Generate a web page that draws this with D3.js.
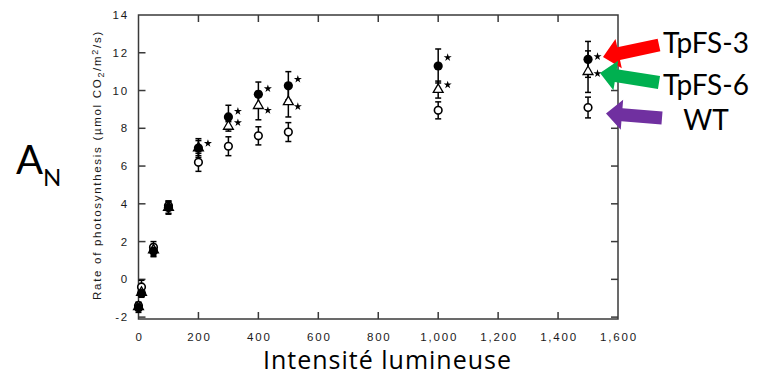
<!DOCTYPE html>
<html>
<head>
<meta charset="utf-8">
<script src="https://cdn.jsdelivr.net/npm/d3@7"></script>
<style>
  body { margin: 0; background: #fff; }
  svg { display: block; }
  .tick-label { font-family: "Liberation Sans", Arial, sans-serif; font-size: 11.5px; letter-spacing: 1.8px; fill: #1a1a1a; }
  .big { font-family: Lato, "Open Sans", sans-serif; fill: #000; }
</style>
</head>
<body>
<script>
// light intensity (x) and the three lines
let light = [0, 10, 50, 100, 200, 300, 400, 500, 1000, 1500]
let fs3 = [-1.5, -0.75, 1.5, 3.8, 6.95, 8.6, 9.8, 10.25, 11.3, 11.65]
let fs3Err = [0.25, 0.2, 0.3, 0.35, 0.5, 0.62, 0.65, 0.75, 0.9, 0.95]
let fs6 = [-1.45, -0.7, 1.55, 3.8, 6.95, 8.1, 9.2, 9.4, 10.05, 11.0]
let fs6Err = [0.2, 0.2, 0.3, 0.3, 0.4, 0.25, 0.75, 0.8, 0.45, 1.1]
let wt = [-1.4, -0.4, 1.7, 3.9, 6.2, 7.05, 7.6, 7.8, 8.95, 9.1]
let wtErr = [0.2, 0.35, 0.3, 0.25, 0.48, 0.5, 0.48, 0.5, 0.45, 0.55]

// significance marks
let sig3X = [200, 300, 400, 500, 1000, 1500]
let sig3Y = [7.2, 8.9, 10.1, 10.6, 11.75, 11.8]
let sig6X = [300, 400, 500, 1000, 1500]
let sig6Y = [8.3, 8.95, 9.15, 10.3, 10.9]

let xTicks = [0, 200, 400, 600, 800, 1000, 1200, 1400, 1600]
let yTicks = [-2, 0, 2, 4, 6, 8, 10, 12, 14]

let W = 760, H = 375
let pL = 138.5, pR = 618, pT = 15, pB = 319

let svg = d3.select('body').append('svg').attr('width', W).attr('height', H)

let x = d3.scaleLinear().domain([0, 1600]).range([pL, pR])
let y = d3.scaleLinear().domain([-2.1, 14]).range([pB, pT])

// frame and ticks (ticks point inward)
let axisCol = '#3a3a3a'
svg.append('rect').attr('x', pL).attr('y', pT).attr('width', pR - pL).attr('height', pB - pT)
  .attr('fill', 'none').attr('stroke', axisCol).attr('stroke-width', 1.5)

let tl = 7
let g = svg.append('g').attr('stroke', axisCol).attr('stroke-width', 1.5)
xTicks.slice(1, -1).forEach(function (t) {
  g.append('line').attr('x1', x(t)).attr('x2', x(t)).attr('y1', pB).attr('y2', pB - tl)
  g.append('line').attr('x1', x(t)).attr('x2', x(t)).attr('y1', pT).attr('y2', pT + tl)
})
yTicks.forEach(function (t) {
  if (y(t) < pT + 2) return
  g.append('line').attr('y1', y(t)).attr('y2', y(t)).attr('x1', pL).attr('x2', pL + tl)
  g.append('line').attr('y1', y(t)).attr('y2', y(t)).attr('x1', pR).attr('x2', pR - tl)
})

let fmt = d3.format(',')
svg.selectAll('.xl').data(xTicks).enter().append('text').attr('class', 'tick-label')
  .attr('x', function (d) { return x(d) + 1 }).attr('y', 341).attr('text-anchor', 'middle')
  .text(function (d) { return fmt(d) })
svg.selectAll('.yl').data(yTicks).enter().append('text').attr('class', 'tick-label')
  .attr('x', 129).attr('y', function (d) { return y(d) + 4 }).attr('text-anchor', 'end')
  .text(function (d) { return d })

// y axis title
let yt = svg.append('text').attr('class', 'tick-label')
  .attr('transform', 'translate(101,165) rotate(-90)').attr('text-anchor', 'middle')
  .style('font-size', '11.5px').style('letter-spacing', '1.7px')
yt.append('tspan').text('Rate of photosynthesis (\u00b5mol CO')
yt.append('tspan').attr('baseline-shift', '-30%').style('font-size', '9px').text('2')
yt.append('tspan').text('/m')
yt.append('tspan').attr('baseline-shift', '30%').style('font-size', '9px').text('2')
yt.append('tspan').text('/s)')

// error bars
function errBars (vals, errs) {
  let eg = svg.append('g').attr('stroke', '#000').attr('stroke-width', 1.5)
  light.forEach(function (l, i) {
    let cx = x(l), y1 = y(vals[i] + errs[i]), y2 = y(vals[i] - errs[i])
    eg.append('line').attr('x1', cx).attr('x2', cx).attr('y1', y1).attr('y2', y2)
    eg.append('line').attr('x1', cx - 3).attr('x2', cx + 3).attr('y1', y1).attr('y2', y1)
    eg.append('line').attr('x1', cx - 3).attr('x2', cx + 3).attr('y1', y2).attr('y2', y2)
  })
}
errBars(wt, wtErr)
errBars(fs6, fs6Err)
errBars(fs3, fs3Err)

// markers
svg.append('g').selectAll('circle').data(light).enter().append('circle')
  .attr('cx', function (d) { return x(d) }).attr('cy', function (d, i) { return y(wt[i]) })
  .attr('r', 3.8).attr('fill', '#fff').attr('stroke', '#000').attr('stroke-width', 1.6)

let tri = d3.symbol().type(d3.symbolTriangle).size(42)
svg.append('g').selectAll('path').data(light).enter().append('path')
  .attr('d', tri).attr('transform', function (d, i) { return 'translate(' + x(d) + ',' + y(fs6[i]) + ')' })
  .attr('fill', '#fff').attr('stroke', '#000').attr('stroke-width', 1.3)

svg.append('g').selectAll('circle').data(light).enter().append('circle')
  .attr('cx', function (d) { return x(d) }).attr('cy', function (d, i) { return y(fs3[i]) })
  .attr('r', 4.6).attr('fill', '#000')

// stars
let star = d3.symbol().type(d3.symbolStar).size(20)
function stars (xs, ys) {
  svg.append('g').selectAll('path').data(xs).enter().append('path')
    .attr('d', star).attr('fill', '#000')
    .attr('transform', function (d, i) { return 'translate(' + (x(d) + 9.5) + ',' + y(ys[i]) + ')' })
}
stars(sig3X, sig3Y)
stars(sig6X, sig6Y)

// annotation arrows
function arrow (x1, y1, x2, y2, col) {
  let len = Math.hypot(x2 - x1, y2 - y1)
  let ang = Math.atan2(y2 - y1, x2 - x1) * 180 / Math.PI
  let bw = 6.5, hw = 15, hl = 16
  let pts = [[0, -bw], [len - hl, -bw], [len - hl, -hw], [len, 0], [len - hl, hw], [len - hl, bw], [0, bw]]
  svg.append('polygon').attr('points', pts.map(function (p) { return p.join(',') }).join(' '))
    .attr('fill', col).attr('transform', 'translate(' + x1 + ',' + y1 + ') rotate(' + ang + ')')
}
arrow(659, 45, 603, 57, '#ff0000')
arrow(659, 82.5, 600, 73, '#00b050')
arrow(662, 118, 606, 113.5, '#7030a0')

svg.append('text').attr('class', 'big').attr('x', 663).attr('y', 53).style('font-size', '28px').text('TpFS-3')
svg.append('text').attr('class', 'big').attr('x', 663).attr('y', 95).style('font-size', '28px').text('TpFS-6')
svg.append('text').attr('class', 'big').attr('x', 706).attr('y', 130).attr('text-anchor', 'middle').style('font-size', '28px').text('WT')

// A_N
let an = svg.append('text').attr('class', 'big').attr('x', 16).attr('y', 174).style('font-size', '40px')
an.append('tspan').text('A')
an.append('tspan').attr('dy', 12).style('font-size', '24px').text('N')

svg.append('text').attr('x', 387.5).attr('y', 369).attr('text-anchor', 'middle')
  .style('font-family', '"Open Sans", sans-serif').style('font-size', '25px').style('letter-spacing', '1px')
  .text('Intensité lumineuse')
</script>
</body>
</html>
